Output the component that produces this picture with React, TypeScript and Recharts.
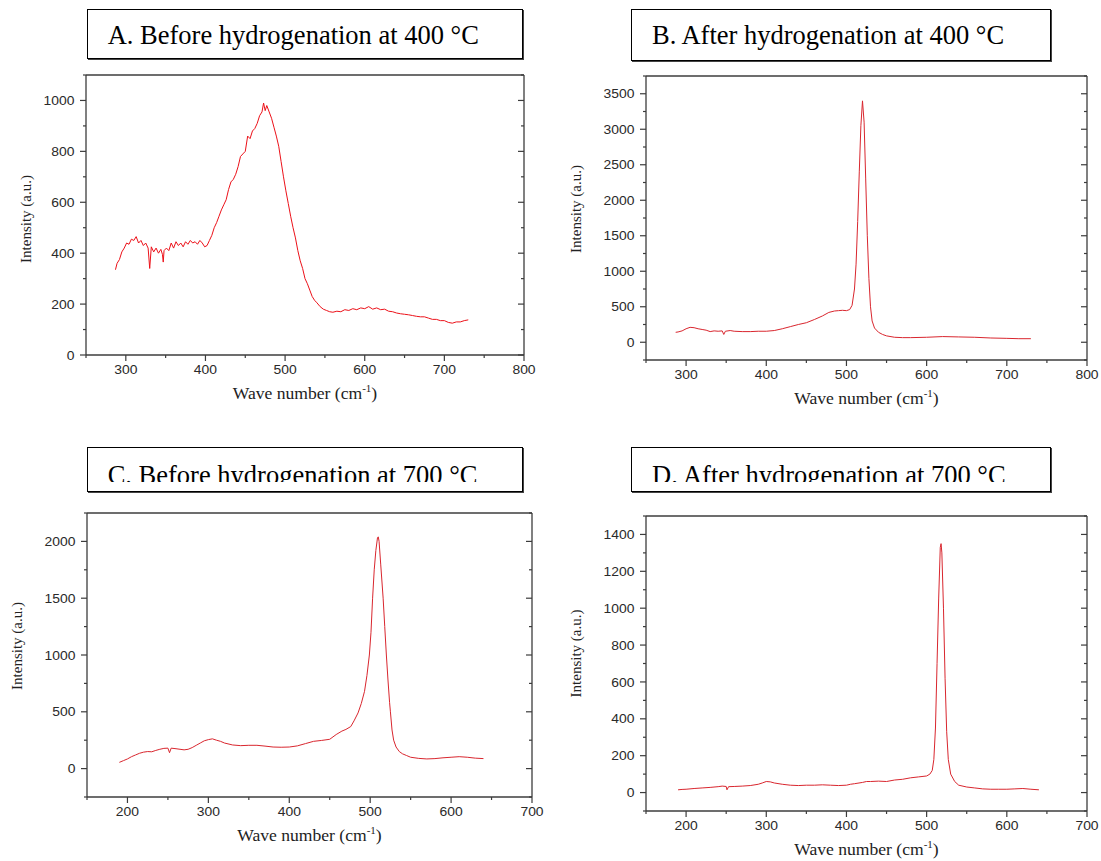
import { LineChart, Line, XAxis, YAxis, Label } from 'recharts';

// Raman spectra, values
const aShift = [
  287, 289, 292, 295, 298, 301, 304, 307, 310, 313,
  316, 319, 322, 325, 328, 330, 332, 335, 338, 341,
  344, 346, 347, 348, 351, 354, 357, 360, 363, 366,
  369, 372, 375, 378, 381, 384, 387, 390, 393, 396,
  399, 402, 405, 408, 411, 414, 417, 420, 423, 426,
  429, 432, 435, 438, 441, 444, 447, 450, 453, 456,
  459, 462, 465, 468, 471, 473, 475, 477, 480, 483,
  486, 489, 492, 495, 498, 501, 504, 507, 510, 513,
  516, 519, 522, 525, 528, 531, 534, 537, 540, 544,
  548, 552, 556, 560, 565, 570, 575, 580, 585, 590,
  595, 600, 605, 610, 615, 620, 625, 630, 635, 640,
  645, 650, 655, 660, 665, 670, 675, 680, 685, 690,
  695, 700, 705, 710, 715, 720, 725, 730,
];
const aIntensity = [
  335, 360, 375, 405, 420, 440, 435, 455, 450, 465,
  440, 450, 430, 440, 420, 340, 425, 405, 420, 400,
  415, 395, 365, 410, 420, 410, 440, 420, 445, 430,
  440, 425, 445, 435, 450, 440, 445, 435, 450, 440,
  425, 430, 450, 470, 500, 520, 545, 570, 590, 610,
  650, 680, 690, 710, 740, 780, 790, 800, 860, 850,
  880, 890, 910, 940, 955, 990, 960, 980, 955, 930,
  895, 860, 820, 760, 700, 645, 595, 545, 500, 460,
  410, 370, 340, 300, 280, 255, 230, 215, 205, 190,
  180, 175, 170, 168, 172, 170, 178, 175, 182, 178,
  185, 182, 190, 180, 185, 178, 180, 172, 170, 165,
  162, 160, 158, 155, 152, 150, 150, 145, 140, 140,
  135, 135, 128, 125, 130, 130, 135, 138,
];

const bShift = [
  287, 290, 295, 300, 305, 310, 315, 320, 325, 330,
  335, 340, 345, 347, 349, 355, 360, 370, 380, 390,
  400, 410, 420, 430, 440, 450, 460, 470, 478, 485,
  490, 495, 500, 504, 507, 510, 512, 514, 516, 518,
  520, 522, 524, 526, 528, 530, 532, 535, 540, 545,
  550, 560, 570, 580, 600, 620, 640, 660, 680, 700,
  715, 730,
];
const bIntensity = [
  140, 145, 160, 190, 210, 205, 190, 180, 170, 150,
  160, 155, 160, 110, 155, 165, 155, 150, 150, 155,
  155, 165, 190, 220, 250, 275, 320, 370, 420, 440,
  445, 450, 445, 460, 520, 750, 1100, 1700, 2400, 3050,
  3400, 3100, 2300, 1500, 900, 500, 300, 200, 140, 110,
  90, 70, 65, 65, 70, 80, 75, 70, 60, 55,
  50, 50,
];

const cShift = [
  190, 195, 200, 205, 210, 215, 220, 225, 230, 235,
  240, 245, 250, 252, 254, 260, 265, 270, 275, 280,
  285, 290, 295, 300, 305, 310, 315, 320, 330, 340,
  350, 360, 370, 380, 390, 400, 410, 420, 430, 440,
  450, 458, 465, 470, 476, 480, 485, 489, 493, 496,
  499, 501, 503, 505, 507, 509, 510, 511, 513, 516,
  518, 520, 522, 524, 525, 527, 529, 532, 536, 540,
  545, 550, 560, 570, 580, 590, 600, 610, 620, 630,
  640,
];
const cIntensity = [
  55, 70, 85, 105, 120, 135, 145, 150, 148, 160,
  170, 178, 180, 140, 180, 175, 170, 165, 170, 185,
  205, 225, 245, 255, 262, 250, 240, 225, 208, 202,
  205, 205, 198, 190, 188, 190, 200, 220, 240, 248,
  258, 300, 330, 345, 370, 420, 490, 573, 680, 820,
  1000, 1200, 1500, 1750, 1920, 2030, 2040, 2000, 1800, 1500,
  1250, 1000, 780, 580, 500, 340, 250, 190, 150, 130,
  115, 100, 90, 85, 88, 95, 100, 105, 100, 92,
  88,
];

const dShift = [
  190, 195, 200, 210, 220, 230, 240, 245, 250, 251,
  253, 260, 270, 280, 290, 295, 300, 305, 310, 320,
  330, 340, 350, 360, 370, 380, 390, 400, 405, 410,
  420, 425, 430, 440, 450, 460, 470, 480, 490, 500,
  504, 507, 509, 511, 513, 515, 517, 518, 519, 521,
  523, 525, 527, 530, 535, 540, 550, 560, 570, 580,
  590, 600, 610, 620, 630, 640,
];
const dIntensity = [
  15, 17, 18, 22, 25, 28, 32, 35, 33, 15,
  32, 33, 35, 38, 45, 52, 60, 58, 52, 45,
  40, 38, 40, 40, 42, 40, 38, 40, 45, 48,
  55, 60, 60, 62, 60, 68, 72, 80, 85, 90,
  100, 120, 180, 350, 700, 1050, 1330, 1350, 1300, 1000,
  620, 330, 180, 100, 60, 40, 30, 25, 20, 18,
  18, 18, 20, 22, 18, 15,
];

// tick values (majors get labels)
const xMajor400 = [300, 400, 500, 600, 700, 800];
const xMinor400 = [250, 350, 450, 550, 650, 750];
const xMajor700 = [200, 300, 400, 500, 600, 700];
const xMinor700 = [150, 250, 350, 450, 550, 650];
const aYMajor = [0, 200, 400, 600, 800, 1000];
const aYMinor = [100, 300, 500, 700, 900, 1100];
const bYMajor = [0, 500, 1000, 1500, 2000, 2500, 3000, 3500];
const bYMinor = [-250, 250, 750, 1250, 1750, 2250, 2750, 3250, 3750];
const cYMajor = [0, 500, 1000, 1500, 2000];
const cYMinor = [-250, 250, 750, 1250, 1750, 2250];
const dYMajor = [0, 200, 400, 600, 800, 1000, 1200, 1400];
const dYMinor = [-100, 100, 300, 500, 700, 900, 1100, 1300, 1500];

const axisColor = '#3c3c3c';
const labelColor = '#2a2a2a';
const sansFont = "Arial, 'Liberation Sans', sans-serif";
const serifFont = "'Times New Roman', 'Liberation Serif', serif";

type Side = 'bottom' | 'left' | 'top' | 'right';

function makeTick(side: Side, majors: number[]) {
  return (props: any) => {
    const { x, y, payload } = props;
    const v = payload.value as number;
    const major = majors.includes(v);
    const len = major ? 6 : 3;
    const ls = { stroke: axisColor, strokeWidth: 1.2 };
    if (side === 'bottom') {
      return (
        <g>
          <line x1={x} y1={y} x2={x} y2={y + len} {...ls} />
          {major && (
            <text transform={`translate(${x},${y + 19}) scale(1.07,1)`} textAnchor="middle"
              fontSize={13} fontFamily={sansFont} fill={labelColor}>{v}</text>
          )}
        </g>
      );
    }
    if (side === 'left') {
      return (
        <g>
          <line x1={x - len} y1={y} x2={x} y2={y} {...ls} />
          {major && (
            <text transform={`translate(${x - 11.5},${y + 4.6}) scale(1.07,1)`} textAnchor="end"
              fontSize={13} fontFamily={sansFont} fill={labelColor}>{v}</text>
          )}
        </g>
      );
    }
    if (side === 'top') return <line x1={x} y1={y} x2={x} y2={y + len} {...ls} />;
    return <line x1={x - len} y1={y} x2={x} y2={y} {...ls} />;
  };
}

function XTitle(props: any) {
  const vb = props.viewBox;
  const cx = vb.x + vb.width / 2;
  return (
    <text transform={`translate(${cx},${vb.y + 44}) scale(1.1,1)`} textAnchor="middle"
      fontFamily={serifFont} fontSize={16} fill="#222">
      Wave number (cm<tspan fontSize={10} dy={-7}>-1</tspan><tspan dy={7}>)</tspan>
    </text>
  );
}

const makeYTitle = (dx: number, dy: number) => (props: any) => {
  const vb = props.viewBox;
  const cx = vb.x + vb.width + dx;
  const cy = vb.y + vb.height / 2 + dy;
  return (
    <text transform={`translate(${cx},${cy}) rotate(-90)`} textAnchor="middle" dominantBaseline="central"
      fontFamily={serifFont} fontSize={15} fill="#222">Intensity (a.u.)</text>
  );
};

const rows = (xs: number[], ys: number[]) => xs.map((x, i) => ({ x, y: ys[i] }));
const sorted = (a: number[], b: number[]) => [...a, ...b].sort((p, q) => p - q);

interface PanelCfg {
  title: string;
  box: { left: number; top: number; width: number; height: number };
  textLeft: number;
  baseline: number;
  clipAt?: number;
  plot: { left: number; top: number; right: number; bottom: number };
  xDomain: [number, number];
  yDomain: [number, number];
  xMajor: number[];
  xMinor: number[];
  yMajor: number[];
  yMinor: number[];
  data: { x: number; y: number }[];
  color: string;
  yTitleDx: number;
  yTitleDy: number;
}

const panels: PanelCfg[] = [
  {
    title: 'A. Before hydrogenation at 400 °C',
    box: { left: 87, top: 9, width: 436, height: 50 }, textLeft: 107.7, baseline: 44.3,
    plot: { left: 86, top: 75, right: 524, bottom: 355 },
    xDomain: [250, 800], yDomain: [0, 1100],
    xMajor: xMajor400, xMinor: xMinor400, yMajor: aYMajor, yMinor: aYMinor,
    data: rows(aShift, aIntensity), color: '#ec1119', yTitleDx: -60, yTitleDy: 4,
  },
  {
    title: 'B. After hydrogenation at 400 °C',
    box: { left: 631, top: 9, width: 420, height: 52 }, textLeft: 652, baseline: 44.3,
    plot: { left: 646, top: 76, right: 1087, bottom: 360 },
    xDomain: [250, 800], yDomain: [-250, 3750],
    xMajor: xMajor400, xMinor: xMinor400, yMajor: bYMajor, yMinor: bYMinor,
    data: rows(bShift, bIntensity), color: '#d9262e', yTitleDx: -70, yTitleDy: -9,
  },
  {
    title: 'C. Before hydrogenation at 700 °C',
    box: { left: 87, top: 447, width: 436, height: 45 }, textLeft: 107.7, baseline: 484.4, clipAt: 482.3,
    plot: { left: 87, top: 513, right: 532, bottom: 797 },
    xDomain: [150, 700], yDomain: [-250, 2250],
    xMajor: xMajor700, xMinor: xMinor700, yMajor: cYMajor, yMinor: cYMinor,
    data: rows(cShift, cIntensity), color: '#d9262e', yTitleDx: -70.5, yTitleDy: -9,
  },
  {
    title: 'D. After hydrogenation at 700 °C',
    box: { left: 631, top: 447, width: 420, height: 45 }, textLeft: 652, baseline: 484.4, clipAt: 482.3,
    plot: { left: 646, top: 516, right: 1087, bottom: 811 },
    xDomain: [150, 700], yDomain: [-100, 1500],
    xMajor: xMajor700, xMinor: xMinor700, yMajor: dYMajor, yMinor: dYMinor,
    data: rows(dShift, dIntensity), color: '#d9262e', yTitleDx: -70.5, yTitleDy: -10,
  },
];

const titleSize = 26.5;

function TitleBox({ p }: { p: PanelCfg }) {
  const textTop = p.baseline - 0.8375 * titleSize - p.box.top - 1;
  const text = (
    <div style={{
      position: 'absolute', left: p.textLeft - p.box.left - 1, top: textTop, whiteSpace: 'nowrap',
      fontFamily: serifFont, fontSize: titleSize, lineHeight: `${titleSize}px`, color: '#000',
    }}>{p.title}</div>
  );
  return (
    <div style={{
      position: 'absolute', left: p.box.left, top: p.box.top, width: p.box.width, height: p.box.height,
      boxSizing: 'border-box', border: '1px solid #000', boxShadow: '1px 1px 0 #444', background: '#fff',
    }}>
      {p.clipAt ? (
        <div style={{ position: 'absolute', left: 0, top: 0, right: 0, height: p.clipAt - p.box.top - 1, overflow: 'hidden' }}>
          {text}
        </div>
      ) : text}
    </div>
  );
}

function Panel({ p }: { p: PanelCfg }) {
  const w = p.plot.right - p.plot.left + 120;
  const h = p.plot.bottom - p.plot.top + 90;
  const xTicks = sorted(p.xMajor, p.xMinor);
  const yTicks = sorted(p.yMajor, p.yMinor);
  const axisLine = { stroke: axisColor, strokeWidth: 1.3 };
  return (
    <>
      <TitleBox p={p} />
      <div style={{ position: 'absolute', left: p.plot.left - 100, top: p.plot.top - 20 }}>
        <LineChart width={w} height={h} data={p.data} margin={{ top: 20, right: 20, bottom: 10, left: 20 }}>
          <XAxis dataKey="x" type="number" domain={p.xDomain} ticks={xTicks} interval={0} allowDataOverflow
            height={60} tickSize={0} tickMargin={0} tickLine={false} axisLine={axisLine}
            tick={makeTick('bottom', p.xMajor)}>
            <Label content={XTitle} />
          </XAxis>
          <XAxis xAxisId="top" orientation="top" mirror type="number" domain={p.xDomain} ticks={xTicks}
            interval={0} allowDataOverflow height={10} tickSize={0} tickMargin={0} tickLine={false}
            axisLine={axisLine} tick={makeTick('top', p.xMajor)} />
          <YAxis type="number" domain={p.yDomain} ticks={yTicks} interval={0} allowDataOverflow width={80}
            tickSize={0} tickMargin={0} tickLine={false} axisLine={axisLine} tick={makeTick('left', p.yMajor)}>
            <Label content={makeYTitle(p.yTitleDx, p.yTitleDy)} />
          </YAxis>
          <YAxis yAxisId="right" orientation="right" mirror type="number" domain={p.yDomain} ticks={yTicks}
            interval={0} allowDataOverflow width={10} tickSize={0} tickMargin={0} tickLine={false}
            axisLine={axisLine} tick={makeTick('right', p.yMajor)} />
          <Line type="linear" dataKey="y" stroke={p.color} strokeWidth={1} dot={false} isAnimationActive={false} />
        </LineChart>
      </div>
    </>
  );
}

export default function App() {
  return (
    <div style={{ position: 'absolute', left: 0, top: 0, width: 1101, height: 861, background: '#fff', overflow: 'hidden' }}>
      {panels.map(p => <Panel key={p.title} p={p} />)}
    </div>
  );
}
